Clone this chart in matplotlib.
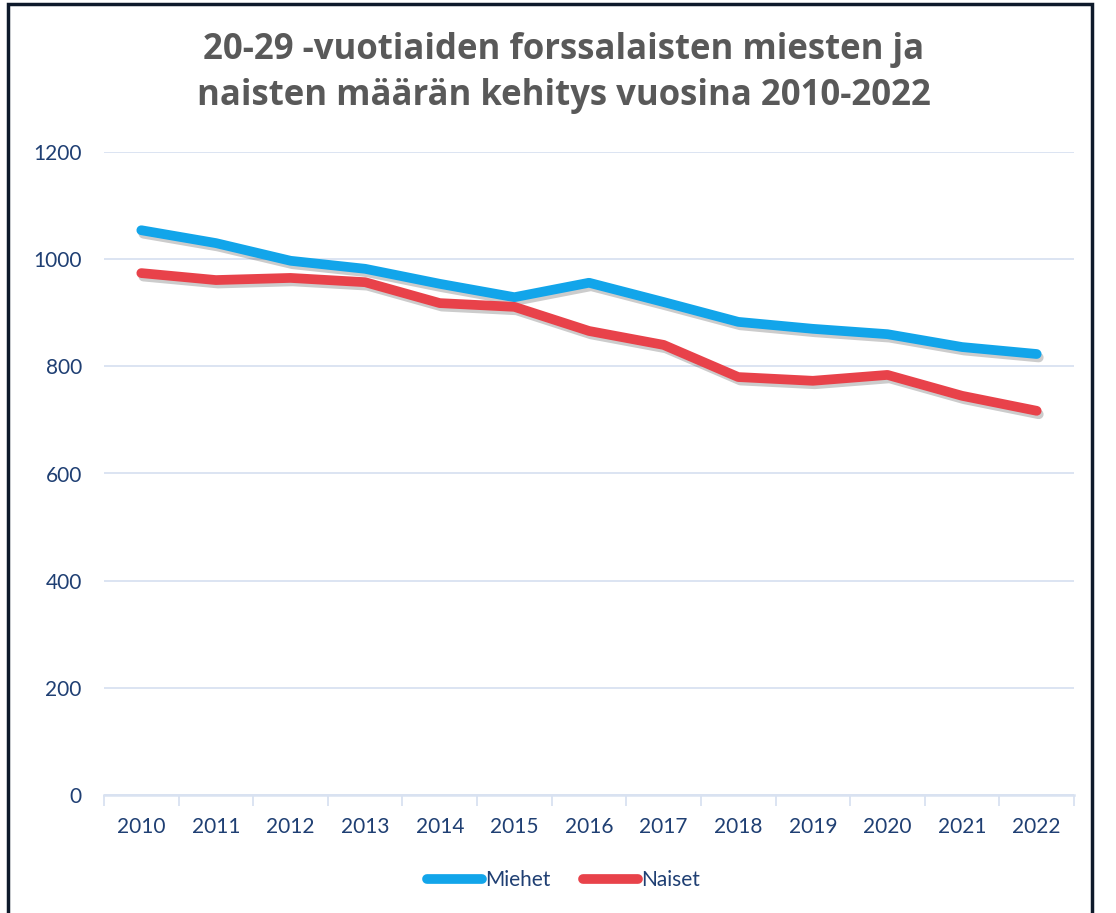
import matplotlib
matplotlib.use("Agg")
import matplotlib.pyplot as plt
import matplotlib.patheffects as pe
from matplotlib.patches import Rectangle
import numpy as np

years = ['2010', '2011', '2012', '2013', '2014', '2015', '2016',
         '2017', '2018', '2019', '2020', '2021', '2022']
miehet = [1054, 1030, 997, 982, 954, 929, 956, 920, 883, 870, 860, 836, 823]
naiset = [974, 961, 965, 957, 918, 911, 866, 840, 780, 773, 784, 745, 717]

title = '20-29 -vuotiaiden forssalaisten miesten ja\nnaisten määrän kehitys vuosina 2010-2022'

label_col = '#1F3F73'
grid_col = '#D9E2F1'

plt.rcParams['font.family'] = ['Lato', 'DejaVu Sans']

fig = plt.figure(figsize=(11.16, 9.13), dpi=100)
ax = fig.add_axes([104/1116, 1 - 795/913, 970/1116, 643/913])

# frame round the whole chart
fig.patches.append(Rectangle((8/1116, -0.01), 1084/1116, 1 - 4/913 + 0.01,
                             transform=fig.transFigure, fill=False,
                             edgecolor='#0E1A2B', linewidth=2.5))

x = np.arange(len(years))
shadow = [pe.SimpleLineShadow(offset=(1.5, -2.5), shadow_color='black', alpha=0.2), pe.Normal()]
ax.plot(x, miehet, color='#12A5EA', lw=7, solid_capstyle='round', solid_joinstyle='round',
        label='Miehet', path_effects=shadow, zorder=3)
ax.plot(x, naiset, color='#E8424A', lw=7, solid_capstyle='round', solid_joinstyle='round',
        label='Naiset', path_effects=shadow, zorder=3)

ax.set_xlim(-0.5, len(years) - 0.5)
ax.set_ylim(0, 1200)
ax.set_yticks(range(0, 1201, 200))
ax.set_xticks(x)
ax.set_xticklabels(years)
ax.set_xticks(np.arange(-0.5, len(years)), minor=True)

ax.grid(axis='y', color=grid_col, lw=1.3)
ax.set_axisbelow(True)
for s in ['top', 'right', 'left']:
    ax.spines[s].set_visible(False)
ax.spines['bottom'].set_color(grid_col)
ax.spines['bottom'].set_linewidth(1.8)

ax.tick_params(axis='y', length=0, pad=16, labelsize=15, labelcolor=label_col)
ax.tick_params(axis='x', which='major', length=0, pad=16, labelsize=15, labelcolor=label_col)
ax.tick_params(axis='x', which='minor', length=8, color=grid_col, width=1.3)

fig.text(0.505, 1 - 73/913, title, ha='center', va='center', fontsize=25,
         fontweight='bold', color='#595959', linespacing=1.35,
         family=['Open Sans', 'DejaVu Sans'])

leg = fig.legend(loc='center', bbox_to_anchor=(0.505, 1 - 880/913), ncol=2, frameon=False,
                 fontsize=15, handlelength=2.6, handletextpad=0.15, columnspacing=1.6)
for t in leg.get_texts():
    t.set_color(label_col)
for h in leg.get_lines():
    h.set_linewidth(7)
    h.set_path_effects([])

fig.savefig('out.png', dpi=100)
